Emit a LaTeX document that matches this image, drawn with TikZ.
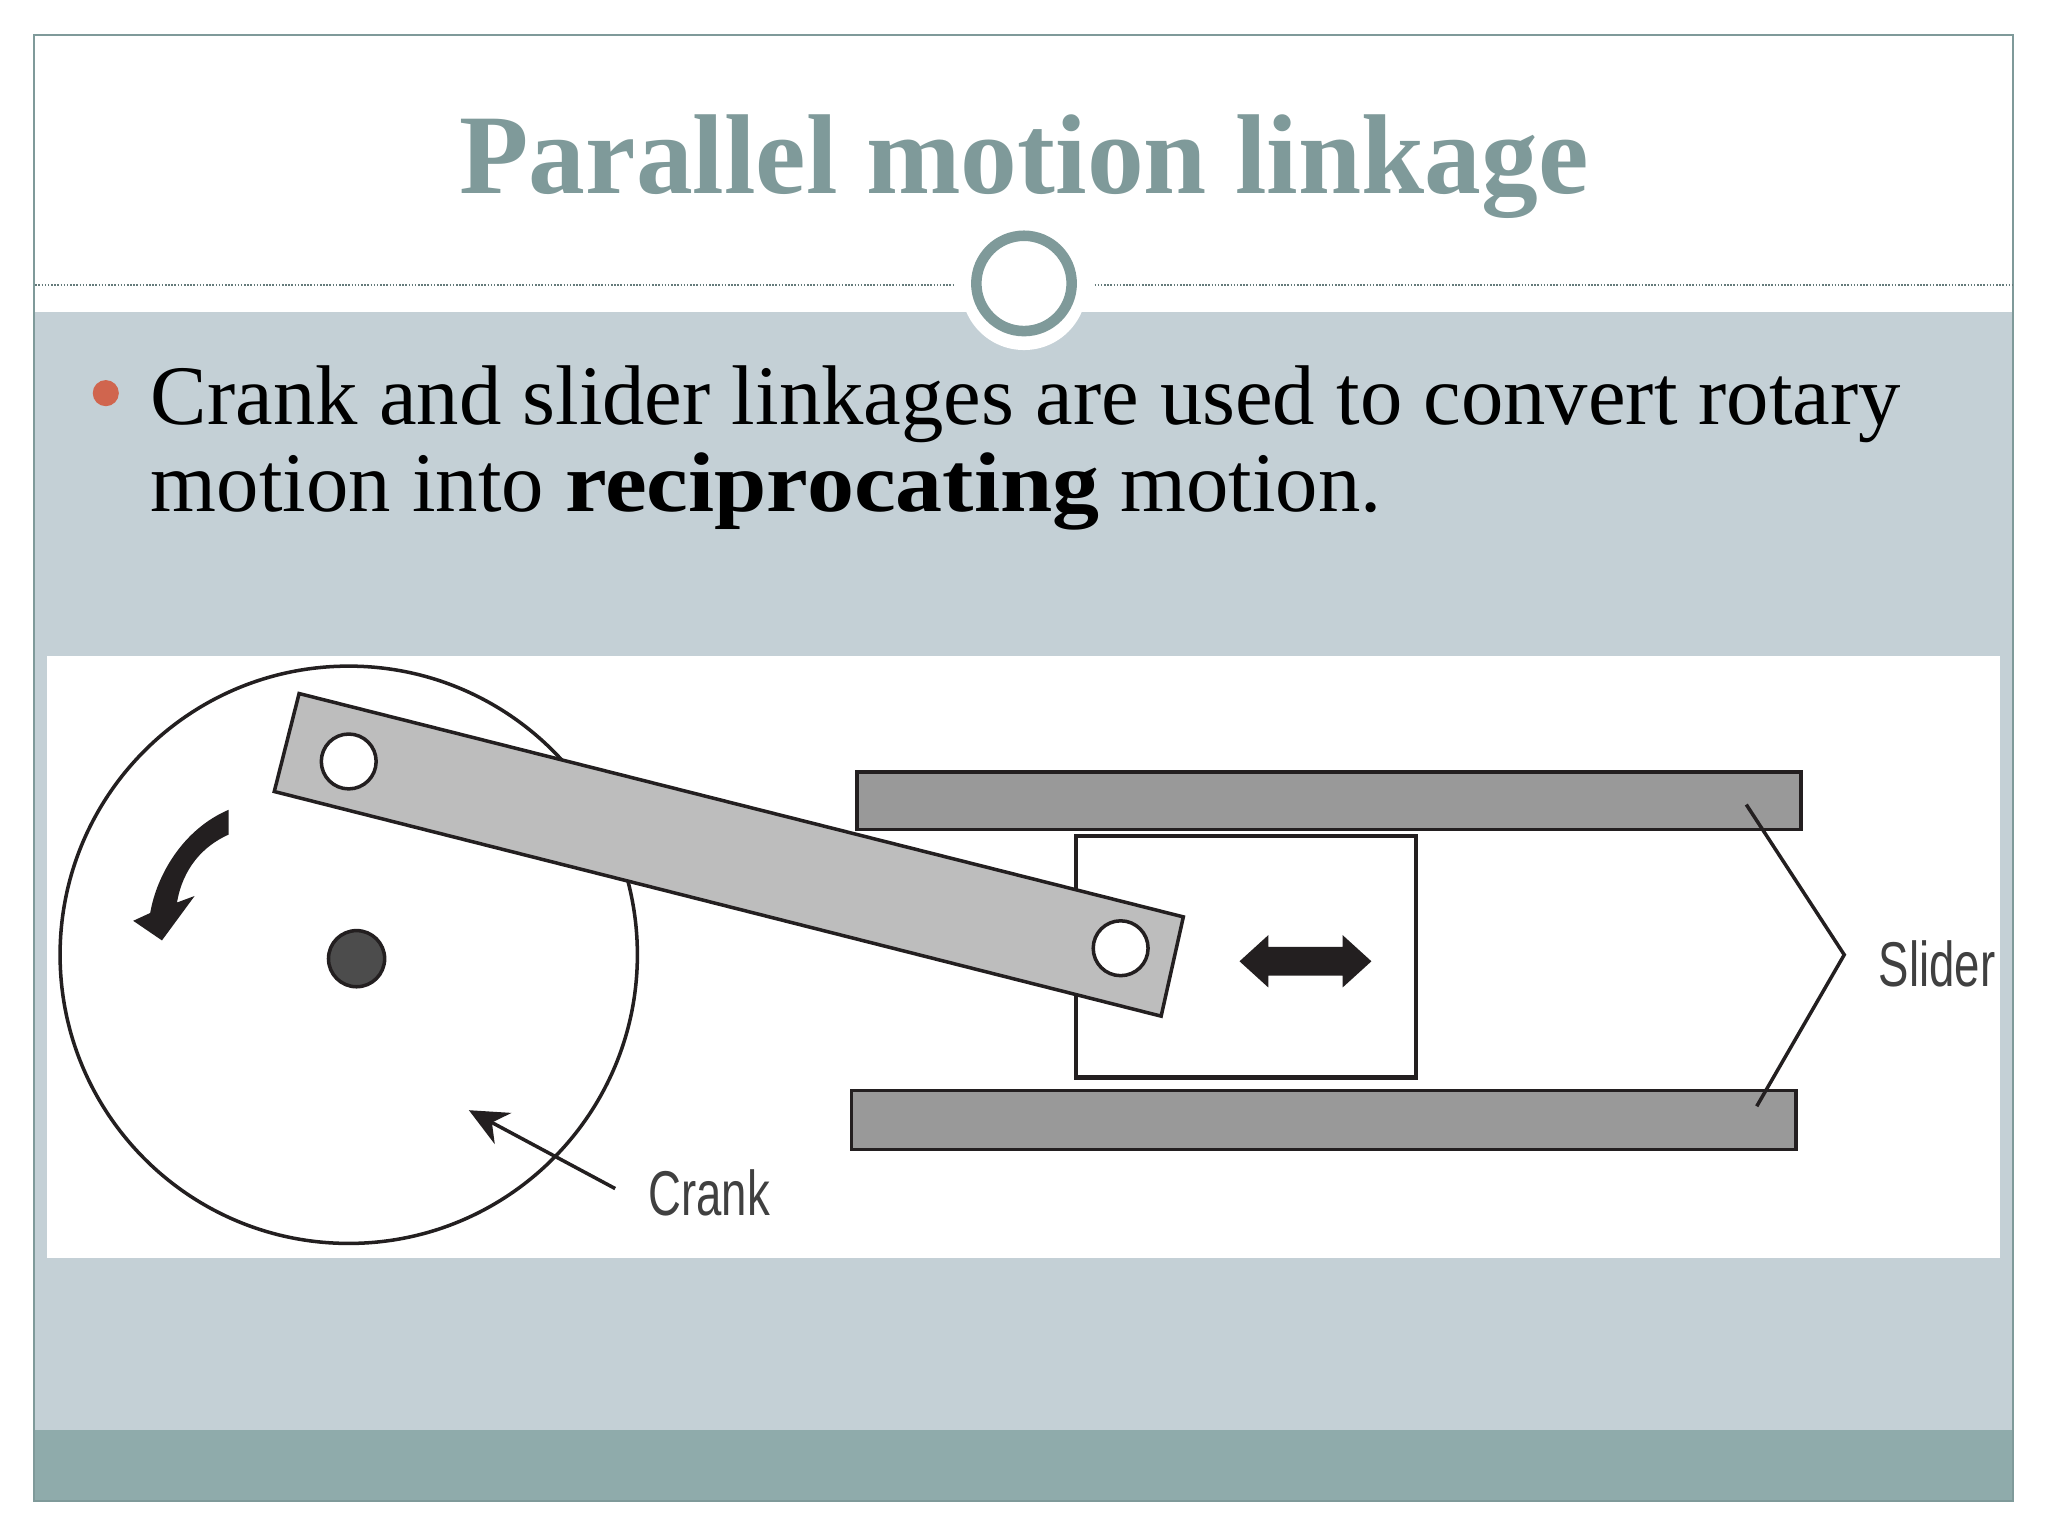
\documentclass[tikz,border=0pt]{standalone}
\usepackage{fontspec}
\setmainfont{Liberation Serif}
\newfontfamily\stressfont[FakeStretch=1.11]{Liberation Serif}
\newfontfamily\captionfont[FakeStretch=0.72]{Liberation Sans}
\usetikzlibrary{arrows.meta}
\definecolor{framecolor}{HTML}{7F9A9A}
\definecolor{panelcolor}{HTML}{C4D0D6}
\definecolor{bandcolor}{HTML}{8FABAB}
\definecolor{bulletcolor}{HTML}{D0654E}
\definecolor{inkcolor}{HTML}{231F20}
\tikzset{
    linkline/.style={draw=inkcolor,line width=1pt},
    guidebar/.style={draw=inkcolor,line width=1pt,fill=black!40!white},
    holedot/.style={draw=inkcolor,line width=1pt,fill=white},
    bodytext/.style={anchor=base west,inner sep=0pt,font=\fontsize{24.1}{28}\selectfont},
    captiontext/.style={anchor=west,inner sep=0pt,text=black!75,font=\captionfont\fontsize{18}{20}\selectfont},
}
\begin{document}
\begin{tikzpicture}[x=0.013061cm,y=-0.013061cm]
    \useasboundingbox (0,0) rectangle (1568,1176);
    \fill[panelcolor] (26,239) rectangle (1541,1095); % 内容底色
    \fill[bandcolor] (26,1095) rectangle (1541,1149); % 底部色带
    \draw[framecolor,line width=0.5pt] (26,27) rectangle (1541,1149); % 外框
    \foreach \x/\w in {27/730,838/1541}
        \draw[framecolor!80!black,line width=0.45pt,dash pattern=on 0.45pt off 0.45pt] (\x,218) -- (\w,218); % 标题分隔线
    \fill[white] (784,220) circle[radius=48];
    \draw[framecolor,line width=3pt,fill=white] (784,217) circle[radius=36.5]; % 圆环
    \node (titletext) at (784,148) [anchor=base,inner sep=0pt,text=framecolor,font=\fontsize{32.3}{36}\selectfont\bfseries] {Parallel motion linkage};
    \fill[bulletcolor] (81,301) circle[radius=10];
    \node (lineone) at (115,325) [bodytext] {Crank and slider linkages are used to convert rotary};
    \node (linetwo) at (115,392) [bodytext] {motion into {\stressfont\bfseries reciprocating} motion.};
    \fill[white] (36,502) rectangle (1531,963); % 图片底色
    \draw[linkline] (267,731) circle[radius=221]; % 曲柄圆盘
    \foreach \y/\h in {591/635,835/880}
        \draw[guidebar] ({\y==591 ? 656 : 652},\y) rectangle ({\y==591 ? 1379 : 1375},\h); % 导轨
    \draw[line width=1.2pt,draw=inkcolor,fill=white] (824,640) rectangle (1084,825); % 滑块
    \draw[linkline,fill=black!26!white] (229,531) -- (906,702) -- (889,778) -- (210,606) -- cycle; % 连杆
    \foreach \x/\y in {267/583,858/726}
        \draw[holedot] (\x,\y) circle[radius=21]; % 销孔
    \draw[linkline,fill=black!70!white] (273,734) circle[radius=21.5]; % 转轴
    \fill[inkcolor] (175,620) .. controls (140,635) and (120,670) .. (115,699) -- (102,705) -- (124,720) -- (149,686) -- (135.5,691) .. controls (140,665) and (155,648) .. (175,639) -- cycle; % 旋转箭头
    \fill[inkcolor] (949,736) -- (971,716) -- (971,725) -- (1028,725) -- (1028,716) -- (1050,736) -- (1028,756) -- (1028,747) -- (971,747) -- (971,756) -- cycle; % 往复箭头
    \node (cranklabel) at (496,913) [captiontext] {Crank};
    \coordinate (crankstart) at (471,910);
    \coordinate (crankend) at (359,850);
    \draw[linkline,-{Stealth[length=11pt,width=10pt]}] (crankstart) -- (crankend); % 曲柄引线
    \node (sliderlabel) at (1438,738) [captiontext] {Slider};
    \coordinate (slidertop) at (1337,616);
    \coordinate (sliderknee) at (1412,731);
    \coordinate (sliderbottom) at (1345,847);
    \draw[linkline] (slidertop) -- (sliderknee) -- (sliderbottom); % 滑块引线
\end{tikzpicture}
\end{document}
